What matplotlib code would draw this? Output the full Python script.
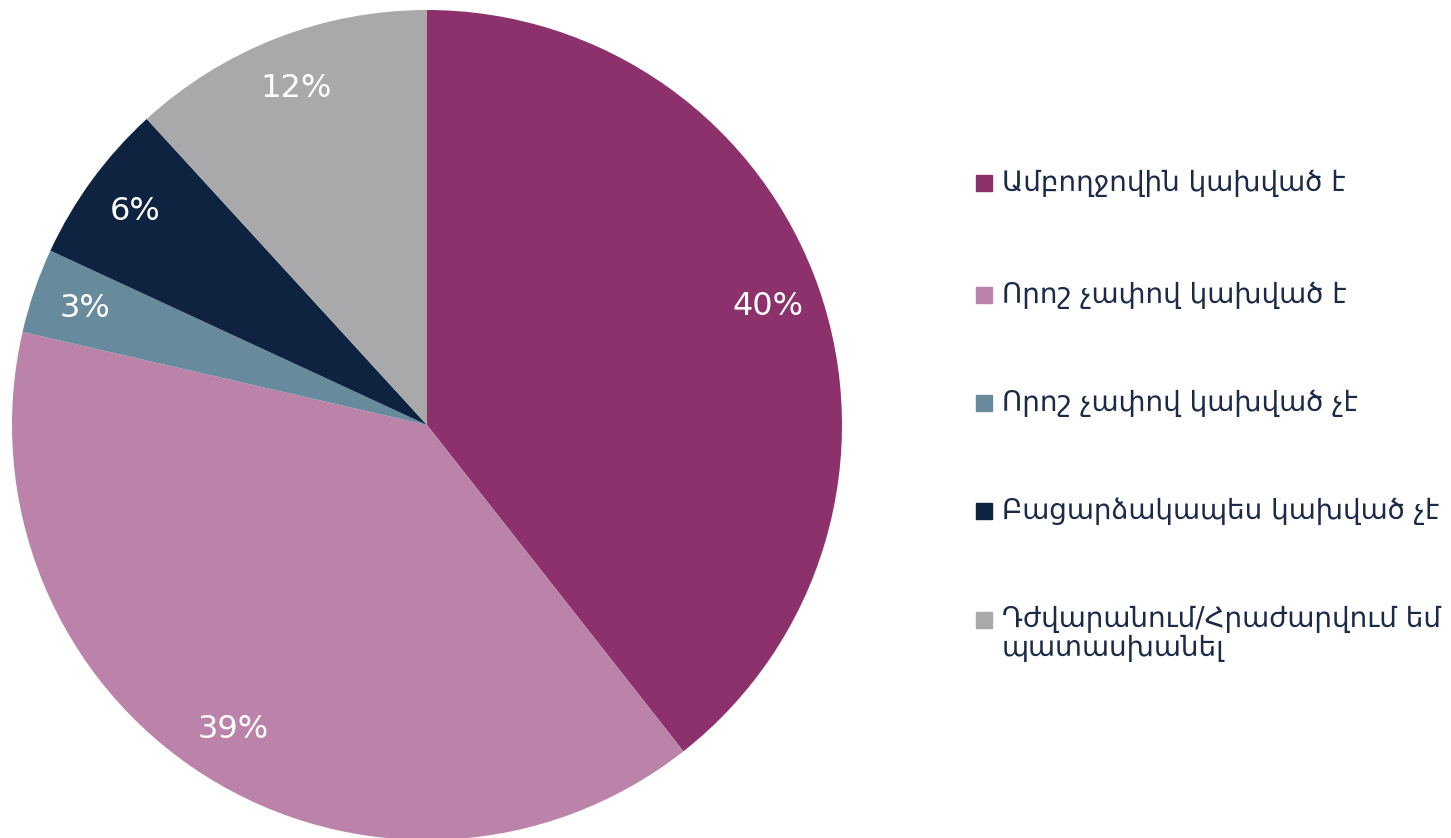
import matplotlib.pyplot as plt
from matplotlib.patches import Rectangle

labels = ['Ամբողջովին կախված է', 'Որոշ չափով կախված է', 'Որոշ չափով կախված չէ',
          'Բացարձակապես կախված չէ', 'Դժվարանում/Հրաժարվում եմ\nպատասխանել']
values = [39.4, 39.2, 3.3, 6.3, 11.8]
pct_labels = ['40%', '39%', '3%', '6%', '12%']
colors = ['#8C316C', '#BB83A9', '#678A9D', '#0E2340', '#A9A9AC']
text_color = '#1B2A47'

plt.rcParams['font.family'] = ['DejaVu Sans']

fig = plt.figure(figsize=(14.51, 8.38), dpi=100)
W, H = 1451, 838
cx, cy, r = 427, 425, 415
ax = fig.add_axes([(cx - r) / W, (H - cy - r) / H, 2 * r / W, 2 * r / H])
wedges, texts = ax.pie(values, colors=colors, startangle=90, counterclock=False,
                       radius=1, labels=pct_labels, labeldistance=0.87,
                       textprops={'color': 'white', 'fontsize': 23})
for t in texts:
    t.set_ha('center')
    t.set_va('center')
ax.set_xlim(-1, 1)
ax.set_ylim(-1, 1)
ax.set_aspect('equal')
ax.axis('off')

# legend drawn by hand so the marker sits on the first line of each label
row_y = [183, 295, 403, 511, 620]
for lab, col, y in zip(labels, colors, row_y):
    fig.patches.append(Rectangle((976 / W, (H - y - 8) / H), 16 / W, 16 / H,
                                 transform=fig.transFigure, color=col))
    if '\n' in lab:
        fig.text(1002 / W, (H - y + 15) / H, lab, fontsize=20, color=text_color,
                 va='top', ha='left', linespacing=1.05)
    else:
        fig.text(1002 / W, (H - y) / H, lab, fontsize=20, color=text_color,
                 va='center', ha='left')

fig.savefig('out.png', dpi=100)
